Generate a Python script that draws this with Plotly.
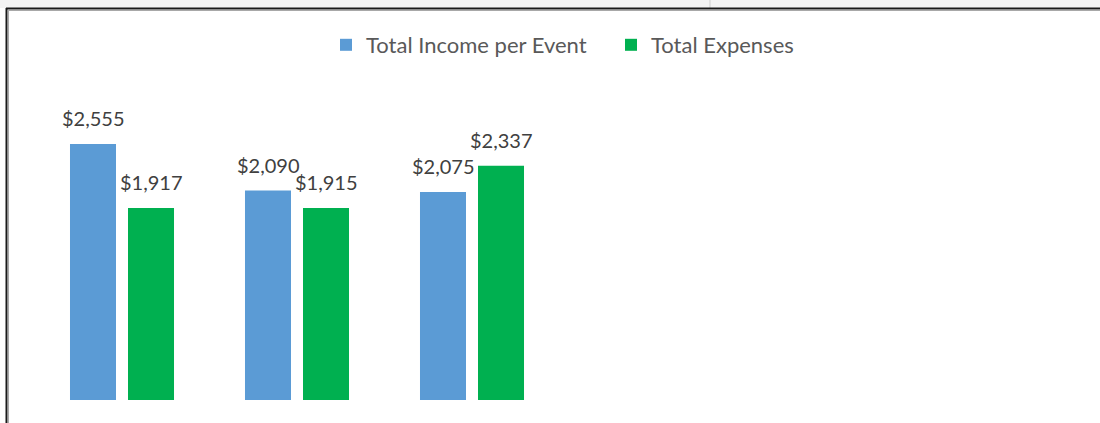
import plotly.graph_objects as go

# Data
categories = [0, 1, 2]
income = [2555, 2090, 2075]
expenses = [1917, 1915, 2337]
series_names = ["Total Income per Event", "Total Expenses"]
colors = ["#5B9BD5", "#00B050"]

W, H = 1100, 423

def px(x):
    return x / W

def py(y):
    return 1 - y / H

fig = go.Figure()
for name, vals, col in zip(series_names, [income, expenses], colors):
    fig.add_trace(go.Bar(
        x=categories, y=vals, name=name,
        marker=dict(color=col, line=dict(width=0)),
        hoverinfo="skip",
    ))

annotations = []
for vals, shift in [(income, -29), (expenses, 29)]:
    for c, v in zip(categories, vals):
        annotations.append(dict(
            x=c, y=v, xref="x", yref="y", text=f"${v:,}",
            showarrow=False, xshift=shift, yshift=26, yanchor="middle",
            font=dict(family="Lato, Open Sans, sans-serif", size=20, color="#404040"),
        ))

shapes = [
    # top strip (spreadsheet area above chart)
    dict(type="rect", xref="paper", yref="paper", x0=0, x1=1, y0=py(8), y1=1,
         fillcolor="#f4f4f4", line=dict(width=0), layer="below"),
    dict(type="line", xref="paper", yref="paper", x0=px(710), x1=px(710), y0=py(8), y1=1,
         line=dict(color="#cfcfcf", width=1)),
    # chart frame
    dict(type="line", xref="paper", yref="paper", x0=px(6), x1=1, y0=py(8.5), y1=py(8.5),
         line=dict(color="#1a1a1a", width=2)),
    dict(type="line", xref="paper", yref="paper", x0=px(8), x1=1, y0=py(10.5), y1=py(10.5),
         line=dict(color="#a8a8a8", width=1)),
    dict(type="line", xref="paper", yref="paper", x0=px(6.5), x1=px(6.5), y0=0, y1=py(8),
         line=dict(color="#1a1a1a", width=2)),
    dict(type="line", xref="paper", yref="paper", x0=px(8.5), x1=px(8.5), y0=0, y1=py(10),
         line=dict(color="#a8a8a8", width=1)),
]

fig.update_layout(
    width=W, height=H,
    margin=dict(l=0, r=0, t=0, b=0),
    paper_bgcolor="white", plot_bgcolor="white",
    barmode="group", bargap=0.337, bargroupgap=0.207,
    xaxis=dict(domain=[px(34.5), px(1084.5)], range=[-0.5, 5.5],
               showticklabels=False, showgrid=False, zeroline=False, showline=False,
               ticks=""),
    yaxis=dict(domain=[1 - 400 / H, 1 - 49 / H], range=[0, 351 / 0.1002],
               showticklabels=False, showgrid=False, zeroline=False, showline=False,
               ticks=""),
    showlegend=True,
    legend=dict(orientation="h", x=px(326), xanchor="left", y=py(45), yanchor="middle",
                font=dict(family="Lato, Open Sans, sans-serif", size=22, color="#595959"),
                itemwidth=30, entrywidth=240, tracegroupgap=0, bgcolor="rgba(0,0,0,0)"),
    annotations=annotations,
    shapes=shapes,
)

fig.write_html("out.html", config={"displayModeBar": False},
               post_script="document.body.style.margin='0';")
